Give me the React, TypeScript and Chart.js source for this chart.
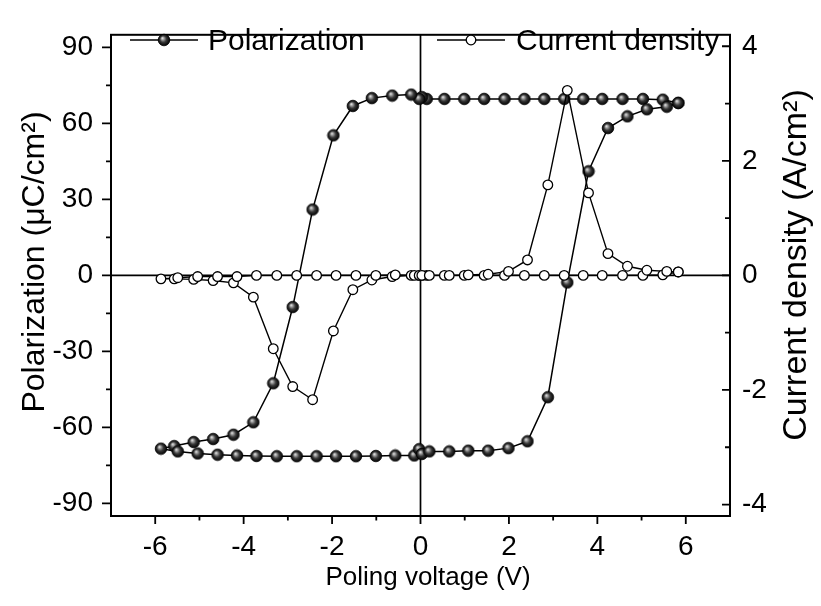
import React, { useEffect, useRef } from "react";
import { Chart, registerables } from "chart.js";

Chart.register(...registerables);

// Loop order: descending sweep (+6 -> -6), then ascending sweep (-6 -> +6)
const voltage = [
  5.83, 5.48, 5.03, 4.57, 4.11, 3.68, 3.25, 2.8, 2.35, 1.9, 1.44, 0.99, 0.54, 0.14, 0.03, -0.03,
  -0.21, -0.64, -1.1, -1.53, -1.97, -2.44, -2.89, -3.33, -3.78, -4.23, -4.69, -5.13, -5.57, -5.87,
  -5.49, -5.04, -4.59, -4.15, -3.71, -3.25, -2.8, -2.35, -1.91, -1.46, -1.01, -0.57, -0.14, -0.03,
  0.03, 0.2, 0.65, 1.08, 1.53, 1.99, 2.42, 2.88, 3.32, 3.8, 4.24, 4.68, 5.12, 5.57, 5.83,
];
const polarization = [
  68.1, 69.4, 69.7, 69.7, 69.7, 69.7, 69.7, 69.7, 69.7, 69.7, 69.7, 69.7, 69.7, 69.7, 70.4, 69.7,
  71.4, 71.0, 70.0, 66.9, 55.3, 26.0, -12.5, -42.6, -58.0, -62.9, -64.6, -65.8, -67.4, -68.4,
  -69.5, -70.3, -70.8, -71.1, -71.3, -71.4, -71.4, -71.4, -71.4, -71.4, -71.3, -71.1, -71.1, -68.6,
  -70.5, -69.5, -69.5, -69.2, -69.2, -68.2, -65.5, -48.1, -2.8, 41.1, 58.2, 62.8, 65.6, 66.6, 68.1,
];
const currentDensity = [
  0.06, 0.01, 0.0, 0.0, 0.0, 0.0, 0.0, 0.0, 0.0, 0.0, 0.0, 0.0, 0.0, 0.0, 0.0, 0.0,
  0.0, -0.02, -0.08, -0.25, -0.97, -2.17, -1.94, -1.28, -0.38, -0.13, -0.09, -0.07, -0.06, -0.06,
  -0.04, -0.02, -0.02, -0.02, 0.0, 0.0, 0.0, 0.0, 0.0, 0.0, 0.0, 0.01, 0.0, 0.0,
  0.0, 0.0, 0.0, 0.01, 0.02, 0.07, 0.27, 1.58, 3.23, 1.44, 0.38, 0.16, 0.09, 0.07, 0.06,
];

const seriesNames = ["Polarization", "Current density"];
const xTitle = "Poling voltage (V)";
const yLeftTitle = "Polarization (\u03BCC/cm\u00B2)";
const yRightTitle = "Current density (A/cm\u00B2)";

const xTicks = [-6, -4, -2, 0, 2, 4, 6];
const xMinorTicks = [-5, -3, -1, 1, 3, 5];
const leftTicks = [-90, -60, -30, 0, 30, 60, 90];
const leftMinorTicks = [-75, -45, -15, 15, 45, 75];
const rightTicks = [-4, -2, 0, 2, 4];
const rightMinorTicks = [-3, -1, 1, 3];

const FONT = "'Liberation Sans', Arial, Helvetica, sans-serif";

function makeSphere(r: number): HTMLCanvasElement {
  const size = Math.ceil(2 * r + 2);
  const c = document.createElement("canvas");
  c.width = size;
  c.height = size;
  const g = c.getContext("2d")!;
  const cx = size / 2;
  const cy = size / 2;
  const grad = g.createRadialGradient(cx - r * 0.3, cy - r * 0.35, 0, cx, cy, r);
  grad.addColorStop(0, "#f4f4f4");
  grad.addColorStop(0.22, "#a8a8a8");
  grad.addColorStop(0.55, "#3a3a3a");
  grad.addColorStop(1, "#000000");
  g.beginPath();
  g.arc(cx, cy, r, 0, Math.PI * 2);
  g.fillStyle = grad;
  g.fill();
  g.lineWidth = 0.8;
  g.strokeStyle = "#000";
  g.stroke();
  return c;
}

export default function App() {
  const ref = useRef<HTMLCanvasElement | null>(null);

  useEffect(() => {
    const canvas = ref.current;
    if (!canvas) return;
    const sphere = makeSphere(5.8);

    const zeroLines = {
      id: "zeroLines",
      beforeDatasetsDraw(chart: any) {
        const { ctx, chartArea, scales } = chart;
        const x0 = scales.x.getPixelForValue(0);
        const y0 = scales.y.getPixelForValue(0);
        ctx.save();
        ctx.strokeStyle = "#000";
        ctx.lineWidth = 1.7;
        ctx.beginPath();
        ctx.moveTo(x0, chartArea.top);
        ctx.lineTo(x0, chartArea.bottom);
        ctx.moveTo(chartArea.left, y0);
        ctx.lineTo(chartArea.right, y0);
        ctx.stroke();
        ctx.restore();
      },
    };

    const frame = {
      id: "frame",
      afterDraw(chart: any) {
        const { ctx, chartArea, scales } = chart;
        const { left, right, top, bottom } = chartArea;
        ctx.save();
        ctx.strokeStyle = "#000";
        ctx.lineWidth = 2;
        ctx.strokeRect(left, top, right - left, bottom - top);
        ctx.lineWidth = 1.8;
        ctx.beginPath();
        xTicks.forEach((v) => {
          const p = scales.x.getPixelForValue(v);
          ctx.moveTo(p, bottom);
          ctx.lineTo(p, bottom + 8);
        });
        xMinorTicks.forEach((v) => {
          const p = scales.x.getPixelForValue(v);
          ctx.moveTo(p, bottom);
          ctx.lineTo(p, bottom + 4.5);
        });
        leftTicks.forEach((v) => {
          const p = scales.y.getPixelForValue(v);
          ctx.moveTo(left, p);
          ctx.lineTo(left - 9, p);
        });
        leftMinorTicks.forEach((v) => {
          const p = scales.y.getPixelForValue(v);
          ctx.moveTo(left, p);
          ctx.lineTo(left - 5, p);
        });
        rightTicks.forEach((v) => {
          const p = scales.y2.getPixelForValue(v);
          ctx.moveTo(right, p);
          ctx.lineTo(right - 8, p);
        });
        rightMinorTicks.forEach((v) => {
          const p = scales.y2.getPixelForValue(v);
          ctx.moveTo(right, p);
          ctx.lineTo(right - 5, p);
        });
        ctx.stroke();

        // axis titles
        ctx.fillStyle = "#000";
        ctx.textAlign = "center";
        ctx.textBaseline = "middle";
        ctx.font = `26px ${FONT}`;
        ctx.fillText(xTitle, 428, 578);
        ctx.save();
        ctx.translate(35, 262);
        ctx.rotate(-Math.PI / 2);
        ctx.font = `32px ${FONT}`;
        ctx.fillText(yLeftTitle, 0, 0);
        ctx.restore();
        ctx.save();
        ctx.translate(797, 265);
        ctx.rotate(-Math.PI / 2);
        ctx.font = `34px ${FONT}`;
        ctx.fillText(yRightTitle, 0, 0);
        ctx.restore();

        // legend
        const drawEntry = (x1: number, x2: number, y: number, filled: boolean, text: string, tx: number) => {
          ctx.lineWidth = 1.5;
          ctx.beginPath();
          ctx.moveTo(x1, y);
          ctx.lineTo(x2, y);
          ctx.stroke();
          const mx = (x1 + x2) / 2;
          if (filled) {
            ctx.drawImage(sphere, mx - sphere.width / 2, y - sphere.height / 2);
          } else {
            ctx.beginPath();
            ctx.arc(mx, y, 4.8, 0, Math.PI * 2);
            ctx.fillStyle = "#fff";
            ctx.fill();
            ctx.lineWidth = 1.3;
            ctx.stroke();
          }
          ctx.fillStyle = "#000";
          ctx.font = `30px ${FONT}`;
          ctx.textBaseline = "alphabetic";
          ctx.textAlign = "left";
          ctx.fillText(text, tx, y + 10);
        };
        drawEntry(130, 198, 40, true, seriesNames[0], 208);
        drawEntry(437, 505, 40, false, seriesNames[1], 516);
        ctx.restore();
      },
    };

    const pts = (ys: number[]) => voltage.map((v, i) => ({ x: v, y: ys[i] }));

    const chart = new Chart(canvas, {
      type: "scatter",
      data: {
        datasets: [
          {
            label: seriesNames[0],
            data: pts(polarization),
            yAxisID: "y",
            showLine: true,
            borderColor: "#000",
            borderWidth: 1.5,
            pointStyle: sphere as any,
            pointRadius: 5.8,
            tension: 0,
            order: 2,
          },
          {
            label: seriesNames[1],
            data: pts(currentDensity),
            yAxisID: "y2",
            showLine: true,
            borderColor: "#000",
            borderWidth: 1.4,
            pointStyle: "circle",
            pointRadius: 4.8,
            pointBorderWidth: 1.3,
            pointBackgroundColor: "#fff",
            pointBorderColor: "#000",
            tension: 0,
            order: 1,
          },
        ],
      },
      options: {
        animation: false,
        responsive: false,
        devicePixelRatio: 1,
        layout: { padding: { top: 12, left: 0, right: 0, bottom: 0 } },
        plugins: { legend: { display: false }, tooltip: { enabled: false } },
        scales: {
          x: {
            type: "linear",
            min: -7,
            max: 7,
            grid: { display: false, drawTicks: false },
            border: { display: false },
            afterBuildTicks: (s: any) => {
              s.ticks = xTicks.map((v) => ({ value: v }));
            },
            afterFit: (s: any) => {
              s.height = 90;
            },
            ticks: {
              color: "#000",
              font: { family: FONT, size: 28 },
              padding: 14,
              maxRotation: 0,
              autoSkip: false,
              callback: (v: any) => String(v),
            },
            title: { display: false },
          },
          y: {
            type: "linear",
            position: "left",
            min: -95,
            max: 95,
            grid: { display: false, drawTicks: false },
            border: { display: false },
            afterBuildTicks: (s: any) => {
              s.ticks = leftTicks.map((v) => ({ value: v }));
            },
            afterFit: (s: any) => {
              s.width = 111;
            },
            ticks: {
              color: "#000",
              font: { family: FONT, size: 28 },
              padding: 18,
              autoSkip: false,
              callback: (v: any) => String(v),
            },
            title: { display: false },
          },
          y2: {
            type: "linear",
            position: "right",
            min: -4.2,
            max: 4.2,
            grid: { display: false, drawTicks: false },
            border: { display: false },
            afterBuildTicks: (s: any) => {
              s.ticks = rightTicks.map((v) => ({ value: v }));
            },
            afterFit: (s: any) => {
              s.width = 91;
            },
            ticks: {
              color: "#000",
              font: { family: FONT, size: 28 },
              padding: 12,
              autoSkip: false,
              callback: (v: any) => String(v),
            },
            title: { display: false },
          },
        },
      },
      plugins: [zeroLines, frame],
    } as any);

    return () => {
      chart.destroy();
    };
  }, []);

  return (
    <div style={{ position: "fixed", left: 0, top: 0, width: 821, height: 606, background: "#fff" }}>
      <canvas ref={ref} width={821} height={606} style={{ display: "block", width: 821, height: 606 }} />
    </div>
  );
}
